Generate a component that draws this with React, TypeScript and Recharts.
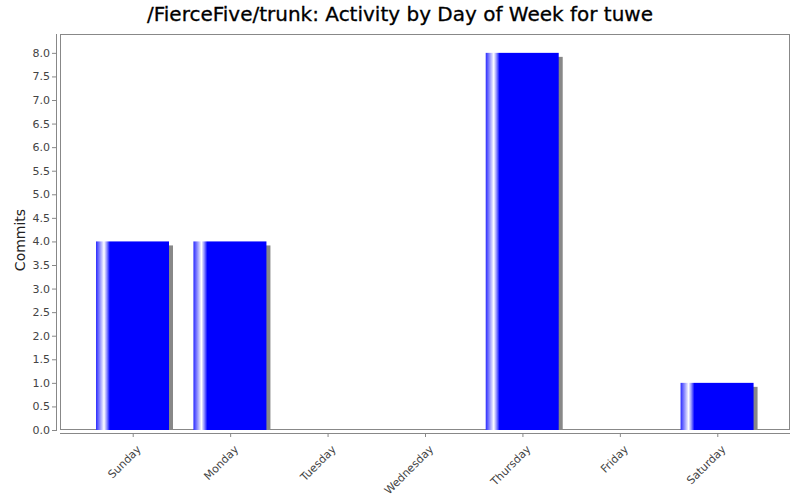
import { BarChart, Bar, XAxis, YAxis } from 'recharts'

const days = ['Sunday', 'Monday', 'Tuesday', 'Wednesday', 'Thursday', 'Friday', 'Saturday']
const commits = [4, 4, 0, 0, 8, 0, 1]
const yTicks = [0, 0.5, 1, 1.5, 2, 2.5, 3, 3.5, 4, 4.5, 5, 5.5, 6, 6.5, 7, 7.5, 8]

const data = days.map((day, i) => ({ day, commits: commits[i] }))

const AXIS_GRAY = '#888888'
const LABEL_GRAY = '#444444'
const FONT = '"DejaVu Sans", sans-serif'

function YTick({ y, payload }: any) {
  return (
    <g>
      <line x1={52} x2={56} y1={y + 0.5} y2={y + 0.5} stroke={AXIS_GRAY} />
      <text x={50} y={y} dy={4} textAnchor="end" fontSize={11} fontFamily={FONT} fill={LABEL_GRAY}>
        {payload.value.toFixed(1)}
      </text>
    </g>
  )
}

function XTick({ x, payload }: any) {
  return (
    <g>
      <line x1={x + 0.5} x2={x + 0.5} y1={433} y2={437} stroke={AXIS_GRAY} />
      <text
        transform={`translate(${x + 9},${450}) rotate(-45)`}
        textAnchor="end"
        fontSize={11}
        fontFamily={FONT}
        fill={LABEL_GRAY}
      >
        {payload.value}
      </text>
    </g>
  )
}

// bar with drop shadow, JFreeChart style
function ShadowBar({ x, y, width, height }: any) {
  if (!height || height <= 0) return null
  return (
    <g>
      <rect x={x + 4} y={y + 4} width={width} height={Math.max(height - 4, 0)} fill="#888888" />
      <rect x={x} y={y} width={width} height={height} fill="url(#barGrad)" />
    </g>
  )
}

export default function App() {
  return (
    <div style={{ position: 'absolute', left: 0, top: 0, width: 800, height: 500, background: '#fff' }}>
      <div
        style={{
          position: 'absolute',
          left: 0,
          top: 2,
          width: 800,
          textAlign: 'center',
          fontFamily: FONT,
          fontSize: 20,
          color: '#000',
          WebkitTextStroke: '0.3px #000',
        }}
      >
        /FierceFive/trunk: Activity by Day of Week for tuwe
      </div>
      {/* plot border */}
      <div
        style={{
          position: 'absolute',
          left: 60,
          top: 34,
          width: 730,
          height: 396,
          boxSizing: 'border-box',
          border: `1px solid ${AXIS_GRAY}`,
        }}
      />
      {/* y axis line */}
      <div style={{ position: 'absolute', left: 56, top: 34, width: 1, height: 397, background: AXIS_GRAY }} />
      {/* x axis line */}
      <div style={{ position: 'absolute', left: 60, top: 433, width: 730, height: 1, background: AXIS_GRAY }} />
      <div
        style={{
          position: 'absolute',
          left: 4,
          top: 240,
          transform: 'translate(-50%, -50%) rotate(-90deg)',
          transformOrigin: 'center',
          fontFamily: FONT,
          fontSize: 14,
          color: '#222',
          marginLeft: 16,
        }}
      >
        Commits
      </div>
      <div style={{ position: 'absolute', left: 0, top: 0 }}>
        <BarChart width={800} height={500} data={data} margin={{ top: 34, right: 10, bottom: 0, left: 0 }}>
          <defs>
            <linearGradient id="barGrad" x1="0" y1="0" x2="1" y2="0">
              <stop offset="0%" stopColor="#2a2aff" />
              <stop offset="5%" stopColor="#8888ff" />
              <stop offset="11%" stopColor="#ffffff" />
              <stop offset="15%" stopColor="#8888ff" />
              <stop offset="19%" stopColor="#0000ff" />
              <stop offset="100%" stopColor="#0000ff" />
            </linearGradient>
          </defs>
          <XAxis
            dataKey="day"
            height={70}
            interval={0}
            padding={{ left: 24, right: 24 }}
            axisLine={false}
            tickLine={false}
            tick={<XTick />}
          />
          <YAxis
            width={60}
            domain={[0, 8.4]}
            ticks={yTicks}
            interval={0}
            axisLine={false}
            tickLine={false}
            tick={<YTick />}
          />
          <Bar dataKey="commits" barSize={73} shape={<ShadowBar />} isAnimationActive={false} />
        </BarChart>
      </div>
    </div>
  )
}
